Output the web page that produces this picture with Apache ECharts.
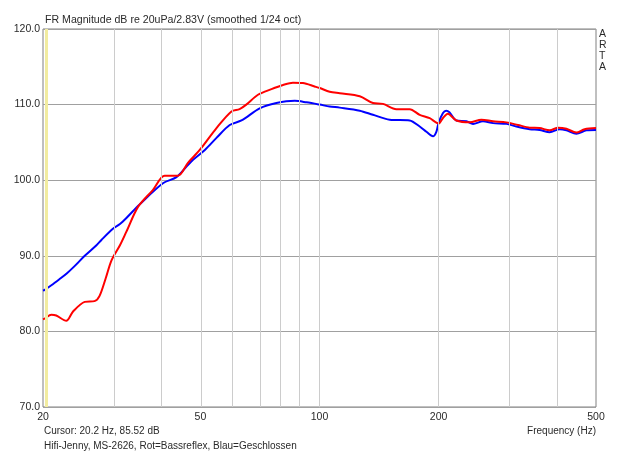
<!DOCTYPE html>
<html>
<head>
<meta charset="utf-8">
<script src="https://cdn.jsdelivr.net/npm/echarts@6/dist/echarts.min.js"></script>
<style>html,body{margin:0;padding:0;background:#fff;}#c{width:640px;height:455px;}</style>
</head>
<body>
<div id="c"></div>
<script>
// Frequencies (Hz) and levels (dB)
const blueFreq = [20, 20.2, 21.0, 22.0, 23.0, 24.0, 25.5, 27.3, 28.1, 30.1, 31.3, 32.5, 35.1, 40.2, 43.5, 46.1, 47.9, 51.3, 54.9, 59.3, 63.5, 70.6, 77.8, 86.6, 92.7, 100.1, 106.1, 112.5, 126.4, 136.5, 150.5, 169, 179.2, 186.3, 193.6, 197.4, 200, 205.2, 209, 213, 221.8, 235.2, 244.4, 259, 274.6, 296.8, 314.6, 340, 360, 382, 405, 421, 446, 473, 500];
const blueDb   = [85.4, 85.5, 86.1, 86.9, 87.7, 88.6, 90.0, 91.4, 92.1, 93.6, 94.2, 95.0, 96.8, 99.6, 100.4, 101.8, 102.7, 104.0, 105.6, 107.3, 107.9, 109.5, 110.2, 110.5, 110.3, 110.0, 109.75, 109.6, 109.2, 108.65, 108.0, 107.9, 107.1, 106.4, 105.8, 106.4, 107.6, 108.9, 109.2, 109.0, 107.9, 107.8, 107.45, 107.8, 107.55, 107.45, 107.1, 106.75, 106.65, 106.35, 106.75, 106.6, 106.15, 106.6, 106.65];

const redFreq = [20, 20.2, 21.0, 21.6, 22.9, 23.8, 25.5, 27.0, 27.8, 28.8, 29.8, 31.3, 32.5, 34.8, 37.9, 40.6, 43.9, 46.5, 49.8, 54.9, 59.9, 62.8, 65.3, 69.9, 75.6, 80.9, 85.7, 90.8, 97.2, 100.1, 106.1, 112.5, 126.4, 136.5, 144.7, 156.4, 169, 179.2, 189.9, 200, 205, 211, 221.8, 239.8, 256.6, 274.6, 296.8, 317.5, 340, 360, 382, 401, 421, 446, 468, 500];
const redDb   = [81.6, 81.7, 82.2, 82.1, 81.4, 82.6, 83.9, 84.0, 84.7, 87.0, 89.4, 91.4, 93.2, 96.5, 98.7, 100.6, 100.6, 102.3, 104.0, 106.9, 109.1, 109.4, 110.0, 111.3, 112.05, 112.6, 112.9, 112.85, 112.4, 112.2, 111.7, 111.5, 111.1, 110.2, 110.1, 109.4, 109.4, 108.65, 108.2, 107.5, 108.2, 108.8, 107.9, 107.65, 108.0, 107.8, 107.65, 107.3, 106.95, 106.9, 106.6, 106.95, 106.8, 106.3, 106.75, 106.9];

const xTickLabels = [20, 50, 100, 200, 500];
const xGridFreqs = [30, 40, 50, 60, 70, 80, 90, 100, 200, 300, 400];
const yMin = 70, yMax = 120, yStep = 10;
const cursorFreq = 20.2;

const lg = Math.log10;
const toData = (f, d) => f.map((v, i) => [lg(v), d[i]]);
const font = '"Liberation Sans", Arial, sans-serif';
const txt = '#2a2a2a';

const chart = echarts.init(document.getElementById('c'), null, {renderer: 'canvas'});
chart.setOption({
  animation: false,
  backgroundColor: '#ffffff',
  grid: {left: 43, top: 29, right: 44, bottom: 48, show: true, borderColor: '#808080', borderWidth: 1, backgroundColor: 'transparent'},
  xAxis: {
    type: 'value', min: lg(20), max: lg(500),
    axisLine: {show: false}, axisTick: {show: false}, splitLine: {show: false},
    axisLabel: {
      customValues: xTickLabels.map(lg),
      formatter: v => String(Math.round(Math.pow(10, v))),
      color: txt, fontFamily: font, fontSize: 10.5, margin: 5,
      showMinLabel: true, showMaxLabel: true
    }
  },
  yAxis: {
    type: 'value', min: yMin, max: yMax, interval: yStep,
    axisLine: {show: false}, axisTick: {show: false},
    splitLine: {show: true, lineStyle: {color: '#a0a0a0', width: 1}},
    axisLabel: {formatter: v => v.toFixed(1), color: txt, fontFamily: font, fontSize: 10.5, margin: 3, verticalAlign: 'middle', padding: [0,0,1,0]}
  },
  series: [
    {
      type: 'line', data: [], silent: true,
      markLine: {
        silent: true, symbol: ['none', 'none'], label: {show: false},
        lineStyle: {color: '#cccccc', type: 'solid', width: 1},
        data: xGridFreqs.map(f => ({xAxis: lg(f)})),
        animation: false
      }
    },
    {
      type: 'line', data: [], silent: true,
      markLine: {
        silent: true, symbol: ['none', 'none'], label: {show: false},
        lineStyle: {color: '#f2eca0', type: 'solid', width: 3},
        data: [{xAxis: lg(cursorFreq)}],
        animation: false
      }
    },
    {
      name: 'Blau', type: 'line', data: toData(blueFreq, blueDb), showSymbol: false, smooth: 0.3,
      lineStyle: {color: '#0000ff', width: 2}, itemStyle: {color: '#0000ff'}, z: 3
    },
    {
      name: 'Rot', type: 'line', data: toData(redFreq, redDb), showSymbol: false, smooth: 0.3,
      lineStyle: {color: '#ff0000', width: 2}, itemStyle: {color: '#ff0000'}, z: 4
    }
  ],
  graphic: [
    {type: 'text', left: 45, top: 15, style: {text: 'FR Magnitude dB re 20uPa/2.83V (smoothed 1/24 oct)', fill: txt, font: '10.6px ' + font}},
    {type: 'text', left: 599, top: 29, style: {text: 'A\nR\nT\nA', fill: txt, font: '10.5px ' + font, lineHeight: 11, align: 'center', width: 8}},
    {type: 'text', left: 44, top: 426, style: {text: 'Cursor: 20.2 Hz, 85.52 dB', fill: txt, font: '10px ' + font}},
    {type: 'text', left: 44, top: 441, style: {text: 'Hifi-Jenny, MS-2626, Rot=Bassreflex, Blau=Geschlossen', fill: txt, font: '10px ' + font}},
    {type: 'text', right: 44, top: 426, style: {text: 'Frequency (Hz)', fill: txt, font: '10px ' + font}}
  ]
});
</script>
</body>
</html>
